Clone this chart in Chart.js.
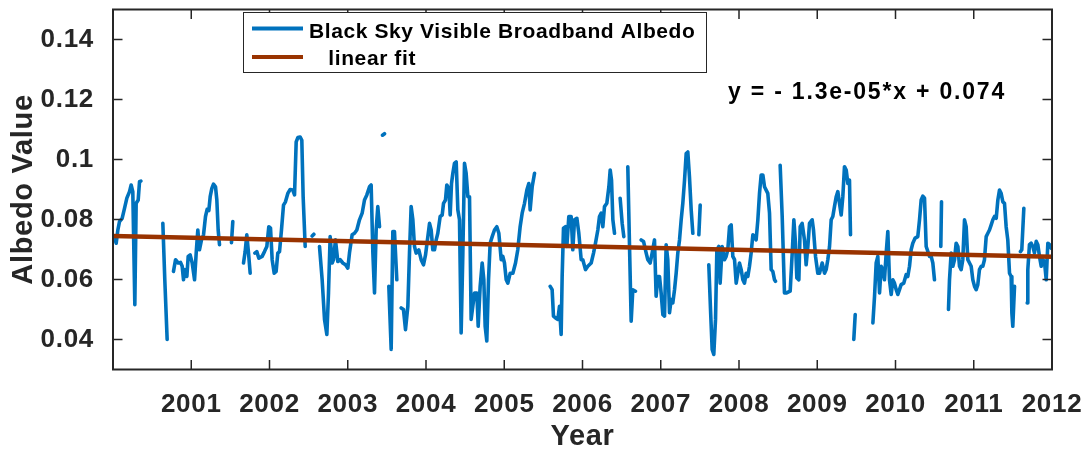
<!DOCTYPE html>
<html>
<head>
<meta charset="utf-8">
<script src="https://cdn.jsdelivr.net/npm/chart.js@4.4.1/dist/chart.umd.min.js"></script>
<style>
html,body{margin:0;padding:0;background:#ffffff;}
canvas{display:block;}
</style>
</head>
<body>
<canvas id="c" width="1088" height="454"></canvas>
<script>
// ---- data (decimal year, albedo); null = gap in the record ----
const years = [
 2000.019,2000.041,2000.062,2000.083,2000.117,2000.147,2000.177,2000.211,2000.232,2000.253,2000.279,2000.296,2000.322,2000.339,2000.356,null,
 2000.637,2000.662,2000.692,null,
 2000.773,2000.799,2000.833,2000.863,2000.884,2000.901,2000.918,2000.944,2000.961,2000.986,2001.012,2001.042,2001.063,2001.084,2001.105,2001.131,2001.157,2001.182,2001.203,2001.225,2001.242,2001.263,2001.284,2001.310,2001.327,2001.344,2001.361,null,
 2001.514,2001.531,null,
 2001.668,2001.689,2001.710,2001.732,2001.753,null,
 2001.813,2001.838,2001.864,2001.906,2001.936,2001.966,2001.991,2002.013,2002.034,2002.060,2002.085,2002.106,2002.128,2002.153,2002.179,2002.204,2002.234,2002.264,2002.298,2002.320,2002.341,2002.362,2002.392,2002.413,2002.430,2002.456,null,
 2002.545,2002.567,null,
 2002.639,2002.673,2002.703,2002.733,2002.754,2002.775,2002.801,2002.818,2002.843,2002.873,2002.903,2002.937,2002.971,2003.001,2003.022,2003.056,2003.086,2003.116,2003.150,2003.184,2003.214,2003.244,2003.278,2003.299,2003.321,2003.342,2003.363,2003.384,2003.406,null,
 2003.444,2003.470,null,
 2003.525,2003.555,2003.576,2003.597,2003.627,null,
 2003.683,2003.712,2003.738,2003.768,2003.789,2003.810,2003.832,2003.853,2003.874,2003.908,2003.938,2003.968,2003.994,2004.045,2004.066,2004.087,2004.109,2004.130,2004.151,2004.181,2004.207,2004.224,2004.249,2004.266,2004.292,2004.309,2004.326,2004.343,2004.364,2004.386,2004.407,2004.428,2004.449,2004.471,2004.492,2004.513,2004.535,2004.556,2004.577,2004.598,2004.620,2004.650,2004.667,2004.692,2004.718,2004.739,2004.756,2004.777,2004.799,2004.820,2004.846,2004.875,2004.905,2004.931,2004.961,2004.982,2005.003,2005.025,2005.046,2005.076,2005.110,2005.144,2005.173,2005.203,2005.229,2005.259,2005.289,2005.314,2005.331,2005.357,2005.387,null,
 2005.587,2005.612,2005.629,2005.655,2005.685,2005.706,2005.727,2005.740,2005.757,2005.783,2005.800,2005.825,2005.855,2005.876,2005.898,2005.928,2005.953,2005.983,2006.004,2006.038,2006.068,2006.111,2006.141,2006.166,2006.196,2006.217,2006.239,2006.260,2006.281,2006.311,2006.337,2006.354,2006.371,2006.388,2006.409,null,
 2006.481,2006.507,2006.528,null,
 2006.579,2006.601,2006.622,2006.643,2006.677,null,
 2006.750,2006.780,2006.814,2006.835,2006.865,2006.890,2006.920,2006.941,2006.963,2006.984,2007.005,2007.027,2007.048,2007.069,2007.090,2007.112,2007.133,2007.154,2007.176,2007.197,2007.218,2007.240,2007.261,2007.282,2007.304,2007.325,2007.346,2007.367,2007.389,2007.410,null,
 2007.487,2007.504,null,
 2007.614,2007.636,2007.657,2007.678,2007.700,2007.717,2007.742,2007.759,2007.785,2007.815,2007.836,2007.857,2007.879,2007.900,2007.921,2007.943,2007.964,2007.985,2008.006,2008.028,2008.049,2008.070,2008.091,2008.113,2008.134,2008.155,2008.177,2008.198,2008.219,2008.241,2008.262,2008.283,2008.305,2008.326,2008.347,2008.368,2008.390,2008.411,2008.432,2008.454,2008.466,null,
 2008.526,2008.552,2008.581,2008.603,2008.654,2008.680,2008.701,2008.722,2008.739,2008.765,2008.782,2008.807,2008.837,2008.858,2008.880,2008.901,2008.935,2008.952,2008.978,2009.007,2009.029,2009.063,2009.093,2009.114,2009.135,2009.157,2009.178,2009.199,2009.220,2009.242,2009.263,2009.284,2009.306,2009.327,2009.348,2009.370,2009.391,2009.412,2009.425,null,
 2009.467,2009.485,null,
 2009.711,2009.732,2009.753,2009.774,2009.796,2009.817,2009.838,2009.859,2009.881,2009.902,2009.923,2009.945,2009.966,2009.987,2010.009,2010.030,2010.051,2010.072,2010.106,2010.136,2010.157,2010.179,2010.200,2010.221,2010.251,2010.285,2010.307,2010.328,2010.349,2010.371,2010.392,2010.435,2010.456,2010.477,2010.498,null,
 2010.579,2010.588,null,
 2010.677,2010.690,2010.711,2010.733,2010.754,2010.775,2010.797,2010.818,2010.839,2010.860,2010.882,2010.903,2010.924,2010.946,2010.967,2010.988,2011.010,2011.031,2011.052,2011.073,2011.095,2011.116,2011.137,2011.159,2011.180,2011.201,2011.223,2011.244,2011.265,2011.287,2011.308,2011.329,2011.350,2011.372,2011.393,2011.414,2011.435,2011.457,2011.478,2011.487,2011.499,2011.521,null,
 2011.597,2011.614,2011.640,null,
 2011.683,2011.691,2011.712,2011.734,2011.755,2011.776,2011.798,2011.819,2011.840,2011.862,2011.883,2011.904,2011.926,2011.947,2011.968,2011.990
];
const albedo = [
 0.0738,0.0721,0.0765,0.0793,0.0804,0.0837,0.0871,0.0893,0.0915,0.0893,0.0516,0.0854,0.0865,0.0926,0.0928,null,
 0.0787,0.0599,0.0400,null,
 0.0627,0.0666,0.0655,0.0657,0.0644,0.0599,0.0633,0.0610,0.0677,0.0682,0.0655,0.0599,0.0688,0.0765,0.0699,0.0732,0.0749,0.0810,0.0834,0.0830,0.0876,0.0904,0.0918,0.0909,0.0865,0.0765,0.0716,null,
 0.0723,0.0793,null,
 0.0655,0.0693,0.0749,0.0688,0.0621,null,
 0.0688,0.0693,0.0671,0.0677,0.0693,0.0710,0.0776,0.0771,0.0666,0.0621,0.0627,0.0688,0.0693,0.0765,0.0848,0.0859,0.0887,0.0900,0.0898,0.0882,0.1059,0.1073,0.1075,0.1064,0.0876,0.0710,null,
 0.0745,0.0751,null,
 0.0710,0.0599,0.0467,0.0417,0.0555,0.0743,0.0655,0.0666,0.0732,0.0660,0.0666,0.0655,0.0649,0.0638,0.0688,0.0749,0.0754,0.0765,0.0799,0.0821,0.0865,0.0882,0.0909,0.0915,0.0688,0.0555,0.0765,0.0843,0.0776,null,
 0.1081,0.1086,null,
 0.0577,0.0367,0.0760,0.0760,0.0599,null,
 0.0505,0.0500,0.0433,0.0511,0.0688,0.0843,0.0799,0.0710,0.0688,0.0699,0.0666,0.0649,0.0682,0.0787,0.0765,0.0699,0.0699,0.0732,0.0754,0.0810,0.0815,0.0854,0.0865,0.0915,0.0904,0.0815,0.0920,0.0954,0.0987,0.0992,0.0832,0.0799,0.0422,0.0688,0.0987,0.0954,0.0876,0.0876,0.0467,0.0511,0.0555,0.0555,0.0444,0.0577,0.0655,0.0599,0.0444,0.0395,0.0599,0.0721,0.0743,0.0765,0.0776,0.0754,0.0666,0.0677,0.0655,0.0599,0.0588,0.0621,0.0621,0.0655,0.0699,0.0776,0.0821,0.0854,0.0898,0.0920,0.0832,0.0909,0.0954,null,
 0.0577,0.0566,0.0478,0.0472,0.0467,0.0511,0.0417,0.0610,0.0771,0.0776,0.0710,0.0810,0.0810,0.0699,0.0799,0.0804,0.0754,0.0666,0.0666,0.0633,0.0644,0.0655,0.0688,0.0721,0.0765,0.0810,0.0821,0.0776,0.0843,0.0854,0.0909,0.0965,0.0931,0.0799,0.0754,null,
 0.0871,0.0787,0.0743,null,
 0.0976,0.0710,0.0461,0.0566,0.0561,null,
 0.0732,0.0727,0.0688,0.0666,0.0655,0.0688,0.0732,0.0544,0.0610,0.0610,0.0555,0.0483,0.0478,0.0716,0.0666,0.0489,0.0533,0.0522,0.0566,0.0621,0.0688,0.0732,0.0799,0.0854,0.0931,0.1020,0.1025,0.0942,0.0832,0.0754,null,
 0.0749,0.0848,null,
 0.0649,0.0500,0.0367,0.0350,0.0467,0.0699,0.0710,0.0588,0.0710,0.0666,0.0677,0.0699,0.0776,0.0782,0.0677,0.0666,0.0588,0.0621,0.0655,0.0633,0.0599,0.0588,0.0621,0.0610,0.0644,0.0688,0.0749,0.0743,0.0732,0.0799,0.0887,0.0948,0.0948,0.0909,0.0898,0.0887,0.0821,0.0633,0.0627,0.0599,0.0594,null,
 0.0981,0.0810,0.0555,0.0555,0.0561,0.0688,0.0799,0.0721,0.0605,0.0599,0.0776,0.0787,0.0732,0.0649,0.0710,0.0787,0.0799,0.0765,0.0677,0.0621,0.0621,0.0655,0.0621,0.0633,0.0666,0.0710,0.0799,0.0810,0.0843,0.0876,0.0893,0.0854,0.0815,0.0876,0.0976,0.0965,0.0920,0.0931,0.0749,null,
 0.0400,0.0483,null,
 0.0455,0.0544,0.0655,0.0677,0.0555,0.0644,0.0633,0.0599,0.0688,0.0760,0.0599,0.0550,0.0599,0.0588,0.0566,0.0550,0.0566,0.0583,0.0588,0.0616,0.0610,0.0644,0.0699,0.0721,0.0738,0.0743,0.0799,0.0865,0.0878,0.0871,0.0710,0.0677,0.0677,0.0655,0.0599,null,
 0.0710,0.0859,null,
 0.0500,0.0599,0.0688,0.0644,0.0666,0.0721,0.0710,0.0644,0.0633,0.0666,0.0799,0.0776,0.0666,0.0655,0.0644,0.0599,0.0577,0.0566,0.0583,0.0633,0.0644,0.0644,0.0666,0.0743,0.0754,0.0765,0.0782,0.0799,0.0810,0.0804,0.0865,0.0898,0.0887,0.0859,0.0854,0.0776,0.0732,0.0621,0.0610,0.0489,0.0444,0.0577,null,
 0.0693,0.0699,0.0837,null,
 0.0522,0.0633,0.0716,0.0721,0.0710,0.0688,0.0727,0.0716,0.0677,0.0644,0.0666,0.0660,0.0599,0.0721,0.0716,0.0704
];
const fitYears = [2000, 2012];
const fitValues = [0.0745, 0.0676];
const xTickYears = [2001, 2002, 2003, 2004, 2005, 2006, 2007, 2008, 2009, 2010, 2011, 2012];
const yTickValues = [0.04, 0.06, 0.08, 0.10, 0.12, 0.14];
const seriesLabels = ['Black Sky Visible Broadband Albedo', '   linear fit'];
const equationText = 'y = - 1.3e-05*x + 0.074';
const xTitle = 'Year';
const yTitle = 'Albedo Value';

// ---- styling ----
const INK = '#262626';
const BLUE = '#0072BD';
const RUST = '#993300';
const FONT = '"Liberation Sans", Arial, Helvetica, sans-serif';

const albedoPoints = years.map((x, i) => ({ x: x === null ? years[i - 1] : x, y: albedo[i] }));
const fitPoints = fitYears.map((x, i) => ({ x, y: fitValues[i] }));

const framePlugin = {
  id: 'matlabFrame',
  beforeDraw(chart) {
    chart.ctx.letterSpacing = '0.7px';
  },
  afterDatasetsDraw(chart) {
    const { ctx, chartArea: { left, right, top, bottom }, scales: { x, y } } = chart;
    ctx.save();
    ctx.letterSpacing = '0px';
    // inward tick marks on all four sides
    const tl = 9.5;
    ctx.strokeStyle = INK;
    ctx.lineWidth = 1.5;
    ctx.beginPath();
    xTickYears.forEach(v => {
      const px = x.getPixelForValue(v);
      ctx.moveTo(px, bottom); ctx.lineTo(px, bottom - tl);
      ctx.moveTo(px, top); ctx.lineTo(px, top + tl);
    });
    yTickValues.forEach(v => {
      const py = y.getPixelForValue(v);
      ctx.moveTo(left, py); ctx.lineTo(left + tl, py);
      ctx.moveTo(right, py); ctx.lineTo(right - tl, py);
    });
    ctx.stroke();
    // axes box
    ctx.lineWidth = 2;
    ctx.strokeRect(left, top, right - left, bottom - top);

    // legend
    ctx.fillStyle = '#ffffff';
    ctx.fillRect(243, 12, 464, 61);
    ctx.lineWidth = 1;
    ctx.strokeStyle = INK;
    ctx.strokeRect(243.5, 12.5, 463, 60);
    ctx.lineCap = 'butt';
    ctx.lineWidth = 4;
    ctx.strokeStyle = BLUE;
    ctx.beginPath(); ctx.moveTo(252, 28.5); ctx.lineTo(303, 28.5); ctx.stroke();
    ctx.strokeStyle = RUST;
    ctx.beginPath(); ctx.moveTo(252, 57); ctx.lineTo(303, 57); ctx.stroke();
    ctx.fillStyle = '#000000';
    ctx.font = 'bold 21px ' + FONT;
    ctx.letterSpacing = '0.6px';
    ctx.textAlign = 'left';
    ctx.textBaseline = 'alphabetic';
    ctx.fillText(seriesLabels[0], 309, 37.5);
    ctx.fillText(seriesLabels[1], 309, 65);

    // fit equation
    ctx.font = 'bold 23px ' + FONT;
    ctx.letterSpacing = '1.8px';
    ctx.fillText(equationText, 728, 99);
    ctx.restore();
  }
};

new Chart(document.getElementById('c'), {
  type: 'line',
  data: {
    datasets: [
      {
        label: seriesLabels[0],
        data: albedoPoints,
        borderColor: BLUE,
        backgroundColor: BLUE,
        borderWidth: 3.6,
        pointRadius: 0,
        spanGaps: false,
        tension: 0,
        borderJoinStyle: 'round',
        borderCapStyle: 'round',
        order: 2
      },
      {
        label: seriesLabels[1],
        data: fitPoints,
        borderColor: RUST,
        backgroundColor: RUST,
        borderWidth: 4.5,
        pointRadius: 0,
        tension: 0,
        order: 1
      }
    ]
  },
  options: {
    responsive: false,
    animation: false,
    devicePixelRatio: 1,
    layout: { padding: { top: 9.5, right: 36, left: 0, bottom: 0 } },
    plugins: { legend: { display: false }, tooltip: { enabled: false } },
    scales: {
      x: {
        type: 'linear',
        min: 2000,
        max: 2012,
        afterBuildTicks: s => { s.ticks = xTickYears.map(v => ({ value: v })); },
        afterFit: s => { s.height = 84.5; s.paddingLeft = 0; s.paddingRight = 0; },
        grid: { display: false },
        border: { display: false },
        ticks: {
          color: INK,
          font: { family: FONT, size: 26, weight: 'bold', lineHeight: 1.2 },
          padding: 12,
          maxRotation: 0,
          minRotation: 0,
          autoSkip: false,
          callback: v => String(v)
        },
        title: {
          display: true,
          text: xTitle,
          color: INK,
          font: { family: FONT, size: 29, weight: 'bold', lineHeight: 1 },
          padding: { top: 0, bottom: 3 }
        }
      },
      y: {
        type: 'linear',
        min: 0.03,
        max: 0.15,
        afterBuildTicks: s => { s.ticks = yTickValues.map(v => ({ value: v })); },
        afterFit: s => { s.width = 113; s.paddingTop = 0; s.paddingBottom = 0; },
        grid: { display: false },
        border: { display: false },
        ticks: {
          color: INK,
          font: { family: FONT, size: 26, weight: 'bold', lineHeight: 1.2 },
          padding: 11,
          callback: v => String(parseFloat(Number(v).toFixed(2)))
        },
        title: {
          display: true,
          text: yTitle,
          color: INK,
          font: { family: FONT, size: 29, weight: 'bold', lineHeight: 1.2 },
          padding: { top: 7, bottom: 0 }
        }
      }
    }
  },
  plugins: [framePlugin]
});
</script>
</body>
</html>
